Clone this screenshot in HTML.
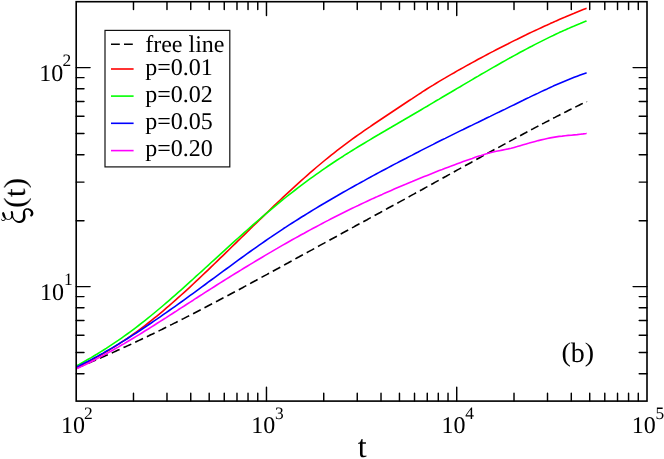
<!DOCTYPE html>
<html><head><meta charset="utf-8"><title>xi(t) vs t</title>
<style>
html,body{margin:0;padding:0;background:#fff;}
body{width:664px;height:459px;overflow:hidden;position:relative;font-family:"Liberation Serif",serif;}
</style></head><body>
<svg width="664" height="459" viewBox="0 0 664 459" style="position:absolute;left:0;top:0;display:block">
<rect x="0" y="0" width="664" height="459" fill="#fff"/>
<path d="M76.2,368.2 L78.2,367.4 L80.2,366.6 L82.1,365.7 L84.1,364.9 M88.1,363.2 L90.1,362.4 L92.1,361.6 L94.0,360.7 L96.0,359.9 M100.0,358.2 L101.9,357.3 L103.9,356.5 L105.9,355.6 L107.8,354.7 M111.8,353.0 L113.7,352.1 L115.7,351.2 L117.6,350.3 L119.6,349.5 M123.5,347.6 L125.5,346.8 L127.4,345.9 L129.4,345.0 L131.3,344.1 M135.2,342.2 L137.2,341.3 L139.1,340.4 L141.0,339.5 L143.0,338.6 M146.9,336.7 L148.8,335.8 L150.7,334.8 L152.7,333.9 L154.6,333.0 M158.5,331.1 L160.4,330.1 L162.3,329.2 L164.2,328.2 L166.2,327.3 M170.1,325.3 L172.0,324.4 L173.9,323.4 L175.8,322.5 L177.7,321.5 M181.6,319.5 L183.5,318.6 L185.4,317.6 L187.3,316.6 L189.2,315.7 M193.1,313.7 L195.0,312.7 L196.9,311.7 L198.8,310.7 L200.7,309.8 M204.5,307.8 L206.4,306.8 L208.3,305.8 L210.2,304.8 L212.1,303.8 M216.0,301.8 L217.9,300.8 L219.7,299.8 L221.6,298.8 L223.5,297.8 M227.4,295.7 L229.3,294.7 L231.1,293.7 L233.0,292.7 L234.9,291.7 M238.8,289.7 L240.6,288.7 L242.5,287.7 L244.4,286.6 L246.3,285.6 M250.1,283.6 L252.0,282.5 L253.9,281.5 L255.8,280.5 L257.6,279.5 M261.5,277.4 L263.3,276.4 L265.2,275.4 L267.1,274.4 L269.0,273.3 M272.8,271.3 L274.7,270.2 L276.5,269.2 L278.4,268.2 L280.3,267.2 M284.1,265.1 L286.0,264.0 L287.9,263.0 L289.7,262.0 L291.6,261.0 M295.4,258.9 L297.3,257.8 L299.2,256.8 L301.0,255.8 L302.9,254.8 M306.7,252.7 L308.6,251.6 L310.5,250.6 L312.4,249.6 L314.2,248.6 M318.0,246.5 L319.9,245.4 L321.8,244.4 L323.7,243.4 L325.5,242.4 M329.4,240.3 L331.2,239.2 L333.1,238.2 L335.0,237.2 L336.9,236.2 M340.7,234.1 L342.5,233.0 L344.4,232.0 L346.3,231.0 L348.2,230.0 M352.0,227.9 L353.9,226.9 L355.7,225.8 L357.6,224.8 L359.5,223.8 M363.3,221.7 L365.2,220.7 L367.1,219.7 L368.9,218.6 L370.8,217.6 M374.6,215.5 L376.5,214.5 L378.4,213.5 L380.3,212.5 L382.2,211.4 M386.0,209.4 L387.8,208.3 L389.7,207.3 L391.6,206.3 L393.5,205.3 M397.3,203.2 L399.2,202.1 L401.0,201.1 L402.9,200.1 L404.8,199.1 M408.6,197.0 L410.5,195.9 L412.3,194.9 L414.2,193.9 L416.1,192.8 M419.9,190.7 L421.8,189.7 L423.6,188.7 L425.5,187.6 L427.4,186.6 M431.2,184.5 L433.1,183.5 L434.9,182.4 L436.8,181.4 L438.7,180.4 M442.5,178.3 L444.3,177.2 L446.2,176.2 L448.1,175.1 L450.0,174.1 M453.8,172.0 L455.6,171.0 L457.5,169.9 L459.4,168.9 L461.2,167.9 M465.0,165.8 L466.9,164.7 L468.8,163.7 L470.7,162.7 L472.5,161.6 M476.3,159.5 L478.2,158.5 L480.1,157.5 L482.0,156.4 L483.8,155.4 M487.3,153.5 L489.1,152.5 L490.9,151.5 L492.7,150.5 L494.5,149.5 M498.2,147.6 L500.0,146.6 L501.8,145.6 L503.6,144.6 L505.5,143.6 M509.1,141.6 L510.9,140.6 L512.8,139.6 L514.6,138.6 L516.4,137.7 M520.1,135.7 L521.9,134.7 L523.7,133.7 L525.6,132.8 L527.4,131.8 M531.1,129.8 L532.9,128.9 L534.7,127.9 L536.6,126.9 L538.4,126.0 M542.1,124.0 L543.9,123.1 L545.7,122.1 L547.6,121.2 L549.4,120.2 M553.1,118.3 L555.0,117.4 L556.8,116.4 L558.7,115.5 L560.5,114.5 M564.2,112.6 L566.1,111.7 L567.9,110.8 L569.8,109.8 L571.6,108.9 M575.3,107.1 L577.2,106.1 L579.1,105.2 L580.9,104.3 L582.8,103.4 M586.5,101.6 L586.5,101.6 L586.6,101.6 L586.6,101.6 L586.6,101.5" fill="none" stroke="#000000" stroke-width="1.6" stroke-linejoin="round"/>
<path d="M76.2,367.6 L79.2,366.2 L82.2,364.7 L85.2,363.2 L88.2,361.7 L91.2,360.1 L94.2,358.5 L97.2,356.9 L100.2,355.2 L103.2,353.5 L106.2,351.7 L109.2,350.0 L112.2,348.1 L115.2,346.3 L118.2,344.4 L121.2,342.4 L124.2,340.4 L127.2,338.4 L130.2,336.3 L133.2,334.2 L136.2,332.1 L139.2,329.9 L142.2,327.6 L145.2,325.3 L148.2,323.0 L151.2,320.6 L154.2,318.2 L157.2,315.8 L160.2,313.3 L163.2,310.8 L166.2,308.2 L169.2,305.7 L172.2,303.0 L175.2,300.4 L178.2,297.7 L181.2,295.0 L184.2,292.3 L187.2,289.6 L190.2,286.8 L193.2,284.0 L196.2,281.2 L199.2,278.4 L202.2,275.5 L205.2,272.7 L208.2,269.8 L211.2,266.9 L214.2,264.0 L217.2,261.1 L220.2,258.2 L223.2,255.3 L226.2,252.4 L229.2,249.5 L232.2,246.5 L235.2,243.6 L238.2,240.7 L241.2,237.7 L244.2,234.8 L247.2,231.9 L250.2,228.9 L253.2,226.0 L256.2,223.1 L259.2,220.2 L262.2,217.3 L265.2,214.4 L268.2,211.5 L271.2,208.6 L274.2,205.7 L277.2,202.9 L280.2,200.0 L283.2,197.2 L286.2,194.4 L289.2,191.6 L292.2,188.9 L295.2,186.1 L298.2,183.4 L301.2,180.7 L304.2,178.0 L307.2,175.3 L310.2,172.7 L313.2,170.1 L316.2,167.5 L319.2,165.0 L322.2,162.5 L325.2,160.0 L328.2,157.6 L331.2,155.1 L334.2,152.8 L337.2,150.4 L340.2,148.1 L343.2,145.8 L346.2,143.6 L349.2,141.4 L352.2,139.2 L355.2,137.0 L358.2,134.9 L361.2,132.8 L364.2,130.7 L367.2,128.6 L370.2,126.6 L373.2,124.5 L376.2,122.5 L379.2,120.5 L382.2,118.5 L385.2,116.5 L388.2,114.5 L391.2,112.5 L394.2,110.5 L397.2,108.5 L400.2,106.5 L403.2,104.5 L406.2,102.5 L409.2,100.5 L412.2,98.6 L415.2,96.6 L418.2,94.6 L421.2,92.7 L424.2,90.7 L427.2,88.8 L430.2,86.9 L433.2,85.1 L436.2,83.2 L439.2,81.4 L442.2,79.6 L445.2,77.9 L448.2,76.1 L451.2,74.4 L454.2,72.7 L457.2,70.9 L460.2,69.3 L463.2,67.6 L466.2,65.9 L469.2,64.3 L472.2,62.6 L475.2,61.0 L478.2,59.3 L481.2,57.7 L484.2,56.1 L487.2,54.5 L490.2,52.9 L493.2,51.4 L496.2,49.8 L499.2,48.2 L502.2,46.7 L505.2,45.2 L508.2,43.7 L511.2,42.1 L514.2,40.6 L517.2,39.2 L520.2,37.7 L523.2,36.2 L526.2,34.8 L529.2,33.3 L532.2,31.9 L535.2,30.5 L538.2,29.1 L541.2,27.7 L544.2,26.3 L547.2,25.0 L550.2,23.6 L553.2,22.3 L556.2,20.9 L559.2,19.6 L562.2,18.3 L565.2,17.1 L568.2,15.8 L571.2,14.5 L574.2,13.3 L577.2,12.0 L580.2,10.8 L583.2,9.6 L586.2,8.4 L586.6,8.3" fill="none" stroke="#ff0000" stroke-width="1.6" stroke-linejoin="round"/>
<path d="M76.2,366.0 L79.2,364.4 L82.2,362.7 L85.2,361.0 L88.2,359.3 L91.2,357.6 L94.2,355.8 L97.2,354.0 L100.2,352.1 L103.2,350.3 L106.2,348.4 L109.2,346.4 L112.2,344.4 L115.2,342.4 L118.2,340.4 L121.2,338.3 L124.2,336.2 L127.2,334.0 L130.2,331.8 L133.2,329.6 L136.2,327.3 L139.2,325.0 L142.2,322.7 L145.2,320.3 L148.2,317.9 L151.2,315.5 L154.2,313.0 L157.2,310.5 L160.2,308.0 L163.2,305.5 L166.2,302.9 L169.2,300.3 L172.2,297.7 L175.2,295.1 L178.2,292.4 L181.2,289.8 L184.2,287.1 L187.2,284.4 L190.2,281.7 L193.2,279.0 L196.2,276.2 L199.2,273.5 L202.2,270.8 L205.2,268.0 L208.2,265.3 L211.2,262.5 L214.2,259.8 L217.2,257.1 L220.2,254.3 L223.2,251.6 L226.2,248.9 L229.2,246.1 L232.2,243.4 L235.2,240.7 L238.2,238.0 L241.2,235.3 L244.2,232.6 L247.2,230.0 L250.2,227.3 L253.2,224.7 L256.2,222.1 L259.2,219.5 L262.2,216.9 L265.2,214.3 L268.2,211.8 L271.2,209.3 L274.2,206.8 L277.2,204.3 L280.2,201.9 L283.2,199.4 L286.2,197.0 L289.2,194.7 L292.2,192.3 L295.2,190.0 L298.2,187.7 L301.2,185.4 L304.2,183.2 L307.2,180.9 L310.2,178.7 L313.2,176.6 L316.2,174.4 L319.2,172.3 L322.2,170.2 L325.2,168.1 L328.2,166.0 L331.2,164.0 L334.2,162.0 L337.2,160.0 L340.2,158.1 L343.2,156.2 L346.2,154.2 L349.2,152.4 L352.2,150.5 L355.2,148.6 L358.2,146.8 L361.2,145.0 L364.2,143.2 L367.2,141.4 L370.2,139.6 L373.2,137.8 L376.2,136.0 L379.2,134.3 L382.2,132.5 L385.2,130.8 L388.2,129.0 L391.2,127.3 L394.2,125.5 L397.2,123.8 L400.2,122.0 L403.2,120.3 L406.2,118.5 L409.2,116.8 L412.2,115.0 L415.2,113.2 L418.2,111.5 L421.2,109.7 L424.2,107.9 L427.2,106.2 L430.2,104.4 L433.2,102.6 L436.2,100.8 L439.2,99.1 L442.2,97.3 L445.2,95.5 L448.2,93.7 L451.2,92.0 L454.2,90.2 L457.2,88.4 L460.2,86.7 L463.2,84.9 L466.2,83.1 L469.2,81.4 L472.2,79.6 L475.2,77.8 L478.2,76.1 L481.2,74.3 L484.2,72.6 L487.2,70.9 L490.2,69.1 L493.2,67.4 L496.2,65.7 L499.2,64.0 L502.2,62.3 L505.2,60.6 L508.2,58.9 L511.2,57.3 L514.2,55.6 L517.2,54.0 L520.2,52.3 L523.2,50.7 L526.2,49.1 L529.2,47.5 L532.2,46.0 L535.2,44.4 L538.2,42.9 L541.2,41.4 L544.2,39.9 L547.2,38.4 L550.2,36.9 L553.2,35.5 L556.2,34.0 L559.2,32.6 L562.2,31.3 L565.2,29.9 L568.2,28.6 L571.2,27.2 L574.2,26.0 L577.2,24.7 L580.2,23.5 L583.2,22.2 L586.2,21.1 L586.6,20.9" fill="none" stroke="#00ff00" stroke-width="1.6" stroke-linejoin="round"/>
<path d="M76.2,367.1 L79.2,365.7 L82.2,364.2 L85.2,362.7 L88.2,361.2 L91.2,359.6 L94.2,358.0 L97.2,356.4 L100.2,354.7 L103.2,353.1 L106.2,351.3 L109.2,349.6 L112.2,347.9 L115.2,346.1 L118.2,344.3 L121.2,342.4 L124.2,340.6 L127.2,338.7 L130.2,336.8 L133.2,334.9 L136.2,333.0 L139.2,331.0 L142.2,329.0 L145.2,327.0 L148.2,325.0 L151.2,323.0 L154.2,320.9 L157.2,318.9 L160.2,316.8 L163.2,314.7 L166.2,312.6 L169.2,310.5 L172.2,308.4 L175.2,306.3 L178.2,304.1 L181.2,302.0 L184.2,299.8 L187.2,297.6 L190.2,295.4 L193.2,293.3 L196.2,291.1 L199.2,288.9 L202.2,286.7 L205.2,284.5 L208.2,282.2 L211.2,280.0 L214.2,277.8 L217.2,275.6 L220.2,273.4 L223.2,271.2 L226.2,269.0 L229.2,266.8 L232.2,264.6 L235.2,262.4 L238.2,260.2 L241.2,258.0 L244.2,255.8 L247.2,253.7 L250.2,251.5 L253.2,249.4 L256.2,247.3 L259.2,245.2 L262.2,243.1 L265.2,241.0 L268.2,238.9 L271.2,236.9 L274.2,234.8 L277.2,232.8 L280.2,230.8 L283.2,228.8 L286.2,226.9 L289.2,224.9 L292.2,223.0 L295.2,221.1 L298.2,219.2 L301.2,217.3 L304.2,215.5 L307.2,213.6 L310.2,211.8 L313.2,209.9 L316.2,208.1 L319.2,206.3 L322.2,204.5 L325.2,202.8 L328.2,201.0 L331.2,199.2 L334.2,197.5 L337.2,195.8 L340.2,194.0 L343.2,192.3 L346.2,190.6 L349.2,188.9 L352.2,187.2 L355.2,185.5 L358.2,183.9 L361.2,182.2 L364.2,180.6 L367.2,178.9 L370.2,177.3 L373.2,175.6 L376.2,174.0 L379.2,172.4 L382.2,170.8 L385.2,169.2 L388.2,167.6 L391.2,166.0 L394.2,164.4 L397.2,162.9 L400.2,161.3 L403.2,159.7 L406.2,158.2 L409.2,156.6 L412.2,155.1 L415.2,153.5 L418.2,152.0 L421.2,150.4 L424.2,148.9 L427.2,147.4 L430.2,145.9 L433.2,144.4 L436.2,142.8 L439.2,141.3 L442.2,139.8 L445.2,138.4 L448.2,136.9 L451.2,135.4 L454.2,133.9 L457.2,132.4 L460.2,130.9 L463.2,129.5 L466.2,128.0 L469.2,126.5 L472.2,125.1 L475.2,123.6 L478.2,122.2 L481.2,120.7 L484.2,119.3 L487.2,117.8 L490.2,116.4 L493.2,114.9 L496.2,113.4 L499.2,112.0 L502.2,110.5 L505.2,109.1 L508.2,107.6 L511.2,106.1 L514.2,104.7 L517.2,103.2 L520.2,101.7 L523.2,100.3 L526.2,98.8 L529.2,97.4 L532.2,95.9 L535.2,94.5 L538.2,93.1 L541.2,91.6 L544.2,90.2 L547.2,88.9 L550.2,87.5 L553.2,86.1 L556.2,84.8 L559.2,83.5 L562.2,82.2 L565.2,80.9 L568.2,79.7 L571.2,78.5 L574.2,77.3 L577.2,76.2 L580.2,75.1 L583.2,74.0 L586.2,73.0 L586.6,72.9" fill="none" stroke="#0000ff" stroke-width="1.6" stroke-linejoin="round"/>
<path d="M76.2,368.9 L79.2,367.5 L82.2,366.1 L85.2,364.7 L88.2,363.2 L91.2,361.7 L94.2,360.2 L97.2,358.6 L100.2,357.0 L103.2,355.4 L106.2,353.8 L109.2,352.1 L112.2,350.5 L115.2,348.8 L118.2,347.1 L121.2,345.3 L124.2,343.6 L127.2,341.8 L130.2,340.0 L133.2,338.2 L136.2,336.4 L139.2,334.6 L142.2,332.7 L145.2,330.8 L148.2,329.0 L151.2,327.1 L154.2,325.2 L157.2,323.3 L160.2,321.4 L163.2,319.5 L166.2,317.6 L169.2,315.6 L172.2,313.7 L175.2,311.8 L178.2,309.8 L181.2,307.9 L184.2,306.0 L187.2,304.0 L190.2,302.1 L193.2,300.2 L196.2,298.2 L199.2,296.3 L202.2,294.4 L205.2,292.4 L208.2,290.5 L211.2,288.6 L214.2,286.7 L217.2,284.8 L220.2,282.9 L223.2,281.0 L226.2,279.1 L229.2,277.3 L232.2,275.4 L235.2,273.5 L238.2,271.7 L241.2,269.9 L244.2,268.0 L247.2,266.2 L250.2,264.4 L253.2,262.6 L256.2,260.8 L259.2,259.0 L262.2,257.2 L265.2,255.4 L268.2,253.6 L271.2,251.9 L274.2,250.1 L277.2,248.4 L280.2,246.6 L283.2,244.9 L286.2,243.2 L289.2,241.5 L292.2,239.8 L295.2,238.1 L298.2,236.5 L301.2,234.8 L304.2,233.2 L307.2,231.5 L310.2,229.9 L313.2,228.3 L316.2,226.7 L319.2,225.1 L322.2,223.5 L325.2,221.9 L328.2,220.4 L331.2,218.8 L334.2,217.3 L337.2,215.8 L340.2,214.3 L343.2,212.8 L346.2,211.3 L349.2,209.8 L352.2,208.3 L355.2,206.9 L358.2,205.5 L361.2,204.0 L364.2,202.6 L367.2,201.2 L370.2,199.8 L373.2,198.4 L376.2,197.1 L379.2,195.7 L382.2,194.4 L385.2,193.0 L388.2,191.7 L391.2,190.4 L394.2,189.1 L397.2,187.8 L400.2,186.5 L403.2,185.2 L406.2,184.0 L409.2,182.7 L412.2,181.5 L415.2,180.2 L418.2,179.0 L421.2,177.8 L424.2,176.6 L427.2,175.4 L430.2,174.2 L433.2,173.0 L436.2,171.8 L439.2,170.6 L442.2,169.5 L445.2,168.3 L448.2,167.2 L451.2,166.1 L454.2,164.9 L457.2,163.8 L460.2,162.7 L463.2,161.6 L466.2,160.5 L469.2,159.4 L472.2,158.4 L475.2,157.3 L478.2,156.3 L481.2,155.4 L484.2,154.4 L487.2,153.6 L490.2,152.7 L493.2,152.0 L496.2,151.3 L499.2,150.7 L502.2,150.1 L505.2,149.5 L508.2,148.9 L511.2,148.2 L514.2,147.4 L517.2,146.6 L520.2,145.7 L523.2,144.8 L526.2,143.9 L529.2,143.1 L532.2,142.2 L535.2,141.4 L538.2,140.6 L541.2,139.9 L544.2,139.2 L547.2,138.5 L550.2,137.9 L553.2,137.4 L556.2,136.9 L559.2,136.4 L562.2,136.1 L565.2,135.7 L568.2,135.4 L571.2,135.2 L574.2,134.9 L577.2,134.6 L580.2,134.2 L583.2,133.9 L586.2,133.4 L586.6,133.3" fill="none" stroke="#ff00ff" stroke-width="1.6" stroke-linejoin="round"/>
<path d="M133.48,401.1 v-7.8 M133.48,1.7 v7.8 M166.98,401.1 v-7.8 M166.98,1.7 v7.8 M190.75,401.1 v-7.8 M190.75,1.7 v7.8 M209.19,401.1 v-7.8 M209.19,1.7 v7.8 M224.26,401.1 v-7.8 M224.26,1.7 v7.8 M236.99,401.1 v-7.8 M236.99,1.7 v7.8 M248.03,401.1 v-7.8 M248.03,1.7 v7.8 M257.76,401.1 v-7.8 M257.76,1.7 v7.8 M266.47,401.1 v-13.9 M266.47,1.7 v13.9 M323.74,401.1 v-7.8 M323.74,1.7 v7.8 M357.25,401.1 v-7.8 M357.25,1.7 v7.8 M381.02,401.1 v-7.8 M381.02,1.7 v7.8 M399.46,401.1 v-7.8 M399.46,1.7 v7.8 M414.52,401.1 v-7.8 M414.52,1.7 v7.8 M427.26,401.1 v-7.8 M427.26,1.7 v7.8 M438.29,401.1 v-7.8 M438.29,1.7 v7.8 M448.03,401.1 v-7.8 M448.03,1.7 v7.8 M456.73,401.1 v-13.9 M456.73,1.7 v13.9 M514.01,401.1 v-7.8 M514.01,1.7 v7.8 M547.51,401.1 v-7.8 M547.51,1.7 v7.8 M571.29,401.1 v-7.8 M571.29,1.7 v7.8 M589.72,401.1 v-7.8 M589.72,1.7 v7.8 M604.79,401.1 v-7.8 M604.79,1.7 v7.8 M617.53,401.1 v-7.8 M617.53,1.7 v7.8 M628.56,401.1 v-7.8 M628.56,1.7 v7.8 M638.29,401.1 v-7.8 M638.29,1.7 v7.8 M76.2,373.74 h7.8 M647.0,373.74 h-7.8 M76.2,352.52 h7.8 M647.0,352.52 h-7.8 M76.2,335.18 h7.8 M647.0,335.18 h-7.8 M76.2,320.52 h7.8 M647.0,320.52 h-7.8 M76.2,307.82 h7.8 M647.0,307.82 h-7.8 M76.2,296.62 h7.8 M647.0,296.62 h-7.8 M76.2,286.60 h13.9 M647.0,286.60 h-13.9 M76.2,220.68 h7.8 M647.0,220.68 h-7.8 M76.2,182.12 h7.8 M647.0,182.12 h-7.8 M76.2,154.76 h7.8 M647.0,154.76 h-7.8 M76.2,133.54 h7.8 M647.0,133.54 h-7.8 M76.2,116.20 h7.8 M647.0,116.20 h-7.8 M76.2,101.54 h7.8 M647.0,101.54 h-7.8 M76.2,88.84 h7.8 M647.0,88.84 h-7.8 M76.2,77.64 h7.8 M647.0,77.64 h-7.8 M76.2,67.62 h13.9 M647.0,67.62 h-13.9" fill="none" stroke="#000" stroke-width="1.45" stroke-linecap="round"/>
<rect x="76.2" y="1.7" width="570.8" height="399.40000000000003" fill="none" stroke="#000" stroke-width="1.62"/>
<rect x="105.0" y="30.4" width="124.80000000000001" height="136.5" fill="#fff" stroke="#111" stroke-width="1.2"/>
<path d="M111,44.2 H133.6" stroke="#000000" stroke-width="1.6" fill="none" stroke-dasharray="8.8 4.2"/>
<path d="M111,69.0 H133.6" stroke="#ff0000" stroke-width="1.6" fill="none"/>
<path d="M111,96.1 H133.6" stroke="#00ff00" stroke-width="1.6" fill="none"/>
<path d="M111,123.3 H133.6" stroke="#0000ff" stroke-width="1.6" fill="none"/>
<path d="M111,150.6 H133.6" stroke="#ff00ff" stroke-width="1.6" fill="none"/>
<g font-family="Liberation Serif, serif" fill="#000" style="will-change:transform;text-rendering:geometricPrecision">
<text x="145.2" y="52.4" font-size="24">free line</text>
<text x="145.2" y="74.5" font-size="24">p=0.01</text>
<text x="145.2" y="101.7" font-size="24">p=0.02</text>
<text x="145.2" y="128.9" font-size="24">p=0.05</text>
<text x="145.2" y="156.1" font-size="24">p=0.20</text>
<text x="60.9" y="432.9" font-size="24">10</text><text x="84.1" y="418.7" font-size="17.4">2</text>
<text x="251.2" y="432.9" font-size="24">10</text><text x="275.0" y="418.7" font-size="17.4">3</text>
<text x="441.4" y="432.9" font-size="24">10</text><text x="465.2" y="418.7" font-size="17.4">4</text>
<text x="631.7" y="432.9" font-size="24">10</text><text x="655.5" y="418.7" font-size="17.4">5</text>
<text x="40.1" y="299.6" font-size="24">10</text><text x="63.9" y="284.8" font-size="17.4">1</text>
<text x="39.3" y="80.6" font-size="24">10</text><text x="62.5" y="65.8" font-size="17.4">2</text>
<text x="362.2" y="456.9" font-size="32" text-anchor="middle">t</text>
<text transform="translate(24.7,208.0) rotate(-90) scale(1,0.96)" font-size="32">(t)</text>
<text x="561.5" y="361.9" font-size="28" transform="translate(0,15.9) scale(1,0.953)">(</text>
<text x="570.83" y="361.9" font-size="28">b</text>
<text x="584.83" y="361.9" font-size="28" transform="translate(0,15.9) scale(1,0.953)">)</text>
</g>
<path d="M2.07,213.41 L2.11,213.64 L2.15,213.87 L2.20,214.10 L2.25,214.33 L2.30,214.56 L2.35,214.78 L2.41,215.01 L2.48,215.24 L2.56,215.47 L2.64,215.70 L2.73,215.92 L2.83,216.14 L2.94,216.37 L3.06,216.59 L3.20,216.82 L3.34,217.04 L3.49,217.26 L3.66,217.48 L3.83,217.69 L4.01,217.89 L4.20,218.09 L4.40,218.28 L4.61,218.46 L4.83,218.63 L5.05,218.79 L5.28,218.94 L5.52,219.08 L5.76,219.21 L6.00,219.33 L6.25,219.43 L6.50,219.53 L6.75,219.61 L7.00,219.68 L7.26,219.73 L7.52,219.78 L7.78,219.81 L8.04,219.83 L8.31,219.83 L8.57,219.82 L8.83,219.79 L9.08,219.75 L9.34,219.70 L9.59,219.63 L9.84,219.55 L10.09,219.46 L10.33,219.35 L10.57,219.23 L10.80,219.10 L11.02,218.95 L11.24,218.79 L11.45,218.62 L11.65,218.43 L11.85,218.24 L12.03,218.03 L12.20,217.81 L12.36,217.59 L12.51,217.35 L12.65,217.11 L12.77,216.86 L12.88,216.60 L12.97,216.34 L13.05,216.08 L13.11,215.81 L13.16,215.54 L13.19,215.27 L13.22,215.01 L13.22,214.74 L13.22,214.48 L13.21,214.22 L13.19,213.96 L13.16,213.70 L13.13,213.45 L13.09,213.20 L13.04,212.95 L12.99,212.71 L12.94,212.47 L12.89,212.23 L12.83,212.00 L12.78,211.76 A1.03,1.03 0 0 0 10.75,212.21 L10.75,212.21 L10.80,212.44 L10.85,212.67 L10.89,212.90 L10.93,213.12 L10.97,213.34 L11.01,213.56 L11.05,213.77 L11.08,213.98 L11.11,214.19 L11.13,214.39 L11.15,214.60 L11.17,214.79 L11.18,214.99 L11.19,215.18 L11.20,215.37 L11.20,215.57 L11.19,215.76 L11.18,215.95 L11.16,216.14 L11.14,216.34 L11.11,216.54 L11.07,216.73 L11.02,216.93 L10.96,217.12 L10.89,217.32 L10.81,217.50 L10.72,217.69 L10.61,217.86 L10.50,218.03 L10.37,218.19 L10.23,218.34 L10.07,218.47 L9.91,218.60 L9.73,218.71 L9.54,218.80 L9.35,218.89 L9.14,218.96 L8.94,219.01 L8.73,219.05 L8.52,219.07 L8.30,219.07 L8.09,219.06 L7.88,219.03 L7.67,218.99 L7.47,218.93 L7.27,218.86 L7.07,218.77 L6.88,218.67 L6.70,218.55 L6.53,218.43 L6.37,218.29 L6.22,218.14 L6.08,217.99 L5.96,217.83 L5.85,217.66 L5.76,217.48 L5.68,217.31 L5.61,217.12 L5.54,216.93 L5.49,216.74 L5.44,216.54 L5.39,216.34 L5.35,216.13 L5.30,215.93 L5.25,215.72 L5.20,215.50 L5.15,215.29 L5.09,215.07 L5.02,214.85 L4.95,214.64 L4.88,214.43 L4.79,214.21 L4.71,214.00 L4.62,213.79 L4.53,213.58 L4.43,213.37 L4.34,213.17 L4.24,212.96 L4.14,212.75 A1.09,1.09 0 0 0 2.07,213.41 Z M1.08,218.99 L1.10,219.07 L1.12,219.14 L1.14,219.21 L1.16,219.29 L1.19,219.36 L1.21,219.44 L1.23,219.51 L1.26,219.59 L1.29,219.66 L1.32,219.74 L1.35,219.81 L1.38,219.88 L1.41,219.95 L1.45,220.02 L1.49,220.10 L1.53,220.16 L1.58,220.23 L1.62,220.30 L1.67,220.36 L1.73,220.43 L1.79,220.49 L1.85,220.55 L1.92,220.60 L1.99,220.65 L2.07,220.70 L2.14,220.74 L2.22,220.78 L2.30,220.82 L2.38,220.85 L2.47,220.88 L2.55,220.90 L2.64,220.92 L2.72,220.93 L2.81,220.94 L2.90,220.95 L2.99,220.96 L3.08,220.96 L3.16,220.96 L3.25,220.96 L3.34,220.95 L3.43,220.94 L3.52,220.93 L3.60,220.91 L3.69,220.89 L3.78,220.87 L3.86,220.85 L3.94,220.82 L4.03,220.79 L4.11,220.76 L4.19,220.72 L4.27,220.69 L4.34,220.65 L4.42,220.60 L4.49,220.56 L4.56,220.51 L4.63,220.47 L4.69,220.42 L4.76,220.36 L4.82,220.31 L4.88,220.26 L4.94,220.20 L4.99,220.15 L5.05,220.09 L5.10,220.03 L5.15,219.97 L5.20,219.91 L5.25,219.85 L5.30,219.79 L5.34,219.73 L5.39,219.67 L5.43,219.61 L5.48,219.55 L5.52,219.48 L5.56,219.42 L5.60,219.36 L5.64,219.30 L5.68,219.24 L5.72,219.18 L5.76,219.12 A0.38,0.38 0 0 0 5.13,218.69 L5.13,218.69 L5.09,218.75 L5.05,218.81 L5.01,218.87 L4.97,218.92 L4.93,218.98 L4.89,219.04 L4.84,219.09 L4.80,219.15 L4.76,219.20 L4.72,219.25 L4.68,219.30 L4.64,219.35 L4.60,219.40 L4.56,219.45 L4.51,219.49 L4.47,219.54 L4.43,219.58 L4.38,219.62 L4.34,219.66 L4.29,219.70 L4.25,219.74 L4.20,219.77 L4.16,219.81 L4.11,219.84 L4.06,219.87 L4.01,219.90 L3.96,219.93 L3.91,219.95 L3.86,219.98 L3.80,220.00 L3.74,220.02 L3.69,220.04 L3.63,220.06 L3.57,220.07 L3.51,220.09 L3.45,220.10 L3.38,220.11 L3.32,220.12 L3.26,220.13 L3.20,220.14 L3.14,220.14 L3.07,220.14 L3.01,220.14 L2.95,220.14 L2.89,220.14 L2.84,220.13 L2.78,220.12 L2.73,220.11 L2.67,220.10 L2.62,220.09 L2.57,220.08 L2.53,220.06 L2.48,220.04 L2.44,220.03 L2.40,220.01 L2.36,219.98 L2.32,219.96 L2.28,219.93 L2.24,219.90 L2.20,219.87 L2.17,219.84 L2.13,219.80 L2.09,219.76 L2.05,219.71 L2.02,219.67 L1.98,219.62 L1.94,219.57 L1.91,219.52 L1.87,219.46 L1.84,219.40 L1.80,219.34 L1.77,219.28 L1.74,219.22 L1.70,219.15 L1.67,219.09 L1.64,219.02 L1.60,218.95 L1.57,218.89 L1.54,218.82 A0.25,0.25 0 0 0 1.08,218.99 Z M11.54,216.07 L11.74,216.50 L11.95,216.93 L12.17,217.37 L12.40,217.81 L12.64,218.24 L12.89,218.67 L13.16,219.09 L13.45,219.50 L13.75,219.90 L14.08,220.29 L14.43,220.67 L14.80,221.02 L15.20,221.36 L15.61,221.67 L16.05,221.96 L16.52,222.22 L17.00,222.45 L17.50,222.64 L18.02,222.79 L18.56,222.90 L19.11,222.97 L19.67,222.99 L20.24,222.95 L20.81,222.86 L21.37,222.72 L21.92,222.53 L22.45,222.28 L22.96,221.97 L23.44,221.60 L23.88,221.18 L24.26,220.72 L24.59,220.22 L24.88,219.70 L25.11,219.16 L25.30,218.61 L25.43,218.04 L25.52,217.47 L25.56,216.91 L25.56,216.36 L25.52,215.84 L25.46,215.34 L25.38,214.86 L25.30,214.41 L25.22,213.96 L25.15,213.53 L25.09,213.11 L25.04,212.69 L25.02,212.28 L25.03,211.88 L25.07,211.50 L25.15,211.15 L25.27,210.83 L25.44,210.56 L25.67,210.31 L25.96,210.09 L26.30,209.92 L26.66,209.81 L27.03,209.75 L27.39,209.76 L27.76,209.82 L28.12,209.94 L28.48,210.10 L28.84,210.29 L29.20,210.52 L29.53,210.76 L29.84,211.02 L30.12,211.28 L30.35,211.56 L30.55,211.85 L30.70,212.15 L30.82,212.47 L30.89,212.80 L30.93,213.12 L30.92,213.41 L30.89,213.66 L30.84,213.87 L30.73,214.13 L30.55,214.46 L30.31,214.84 A1.09,1.09 0 0 0 32.00,216.21 L32.00,216.21 L32.36,215.85 L32.72,215.41 L33.06,214.86 L33.29,214.20 L33.38,213.52 L33.35,212.86 L33.21,212.22 L32.99,211.62 L32.70,211.07 L32.35,210.57 L31.96,210.12 L31.53,209.74 L31.08,209.40 L30.61,209.11 L30.13,208.86 L29.63,208.64 L29.11,208.46 L28.57,208.32 L28.02,208.23 L27.45,208.20 L26.87,208.23 L26.30,208.34 L25.74,208.52 L25.21,208.76 L24.70,209.08 L24.24,209.46 L23.85,209.92 L23.53,210.43 L23.29,210.96 L23.10,211.52 L22.97,212.07 L22.89,212.63 L22.85,213.18 L22.84,213.70 L22.85,214.21 L22.88,214.70 L22.91,215.16 L22.94,215.60 L22.96,216.02 L22.97,216.42 L22.95,216.81 L22.92,217.17 L22.86,217.54 L22.78,217.91 L22.67,218.27 L22.54,218.61 L22.38,218.95 L22.20,219.26 L22.00,219.54 L21.78,219.80 L21.53,220.03 L21.25,220.24 L20.94,220.43 L20.61,220.60 L20.26,220.74 L19.89,220.85 L19.52,220.92 L19.14,220.97 L18.75,220.98 L18.35,220.97 L17.95,220.92 L17.55,220.84 L17.14,220.73 L16.74,220.59 L16.35,220.42 L15.97,220.23 L15.60,220.01 L15.24,219.76 L14.91,219.48 L14.60,219.18 L14.32,218.85 L14.07,218.50 L13.86,218.12 L13.68,217.73 L13.53,217.31 L13.40,216.89 L13.29,216.44 L13.18,215.99 L13.08,215.53 A0.82,0.82 0 0 0 11.54,216.07 Z" fill="#000"><title>ξ</title></path>
</svg>
</body></html>
